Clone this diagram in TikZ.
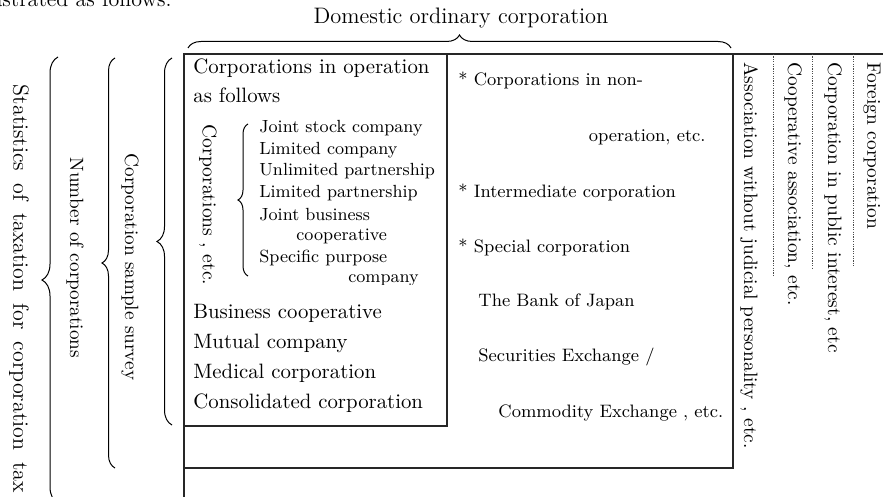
\documentclass[tikz,border=0pt]{standalone}
\usepackage{fontspec}
\usetikzlibrary{decorations.pathreplacing}
\tikzset{
  boxln/.style={line width=0.65pt, draw=black!85},
  dotln/.style={line width=0.4pt, draw=black!70, dash pattern=on 0.6pt off 0.6pt},
  brc/.style={decorate, decoration={brace, amplitude=#1}, line width=0.5pt, draw=black},
  toptxt/.style={font=\fontsize{11}{13}\selectfont, inner sep=0pt},
  bigtxt/.style={font=\fontsize{10.4}{12}\selectfont, inner sep=0pt, anchor=west},
  smalltxt/.style={font=\fontsize{8.8}{10}\selectfont, inner sep=0pt, anchor=west},
  righttxt/.style={font=\fontsize{9}{11}\selectfont, inner sep=0pt, anchor=west},
  vtxt/.style={font=\fontsize{9.7}{11}\selectfont, inner sep=0pt, rotate=-90, anchor=west},
  lbltxt/.style={font=\fontsize{9.6}{11}\selectfont, inner sep=0pt, rotate=-90, anchor=center}
}
\begin{document}
\begin{tikzpicture}[x=0.5pt,y=-0.5pt]
\useasboundingbox (0,0) rectangle (883,497);
% cut-off intro text
\node[toptxt, anchor=base east] (intro) at (172,7) {illustrated as follows.};
% top heading and brace
\node[toptxt, font=\fontsize{11.2}{13}\selectfont] (dom) at (461,18) {Domestic ordinary corporation};
\coordinate (tbl) at (188,48); \coordinate (tbr) at (731,48);
\draw[brc=6.5pt] (tbl) -- (tbr);
% frame lines
\coordinate (A) at (184,497); \coordinate (B) at (184,54); \coordinate (C) at (883,54);
\draw[boxln] (A) -- (B) -- (C);
\coordinate (D) at (184,426); \coordinate (E) at (447,426); \coordinate (F) at (447,54);
\draw[boxln] (D) -- (E) -- (F);
\coordinate (G) at (184,468); \coordinate (H) at (733,468); \coordinate (I) at (733,54);
\draw[boxln] (G) -- (H) -- (I);
% dotted separators
\coordinate (d1t) at (773,54); \coordinate (d1b) at (773,277);
\coordinate (d2t) at (812,54); \coordinate (d2b) at (812,268);
\coordinate (d3t) at (853,54); \coordinate (d3b) at (853,267);
\draw[dotln] (d1t) -- (d1b);
\draw[dotln] (d2t) -- (d2b);
\draw[dotln] (d3t) -- (d3b);
% inner left box
\node[bigtxt] (op1) at (193,68) {Corporations in operation};
\node[bigtxt] (op2) at (193,95) {as follows};
\node[font=\fontsize{9.8}{11}\selectfont, inner sep=0pt, rotate=-90] (cetc) at (208,205) {Corporations , etc.};
\coordinate (sbb) at (248,276); \coordinate (sbt) at (248,124);
\draw[brc=5pt] (sbb) -- (sbt);
\node[smalltxt] (l1) at (259,128) {Joint stock company};
\node[smalltxt] (l2) at (259,149.7) {Limited company};
\node[smalltxt] (l3) at (259,171.4) {Unlimited partnership};
\node[smalltxt] (l4) at (259,193.1) {Limited partnership};
\node[smalltxt] (l5) at (259,214.9) {Joint business};
\node[smalltxt] (l6) at (296,236.6) {cooperative};
\node[smalltxt] (l7) at (259,258.3) {Specific purpose};
\begin{scope}
\clip (330,266) rectangle (430,284.5);
\node[smalltxt] (l8) at (348,280) {company};
\end{scope}
\node[bigtxt] (b1) at (193,313) {Business cooperative};
\node[bigtxt] (b2) at (193,343) {Mutual company};
\node[bigtxt] (b3) at (193,373) {Medical corporation};
\node[bigtxt] (b4) at (193,403) {Consolidated corporation};
% right column
\node[righttxt] (r1) at (458,80) {* Corporations in non-};
\node[righttxt, anchor=east] (r2) at (706,137) {operation, etc.};
\node[righttxt] (r3) at (458,192) {* Intermediate corporation};
\node[righttxt] (r4) at (458,247) {* Special corporation};
\node[righttxt] (r5) at (478,302) {The Bank of Japan};
\node[righttxt] (r6) at (478,357) {Securities Exchange /};
\node[righttxt] (r7) at (498,413) {Commodity Exchange , etc.};
% vertical texts on the right
\node[vtxt] (v1) at (749,62) {Association without judicial personality , etc.};
\node[vtxt] (v2) at (793,62) {Cooperative association, etc.};
\node[vtxt] (v3) at (833,62) {Corporation in public interest, etc};
\node[vtxt] (v4) at (872,62) {Foreign corporation};
% left braces and labels
\coordinate (b1b) at (172,425); \coordinate (b1t) at (172,58);
\draw[brc=7.5pt] (b1b) -- (b1t);
\coordinate (b2b) at (115,468); \coordinate (b2t) at (115,58);
\draw[brc=6.5pt] (b2b) -- (b2t);
\coordinate (b3b) at (58,503); \coordinate (b3t) at (58,57);
\draw[brc=8pt] (b3b) -- (b3t);
\node[lbltxt] (ls) at (130,267) {Corporation sample survey};
\node[lbltxt] (ln) at (75,258) {Number of corporations};
\node[lbltxt, font=\fontsize{11}{13}\selectfont] (lt) at (19,289) {\makebox[204pt][s]{Statistics of taxation for corporation tax}};
\end{tikzpicture}
\end{document}
